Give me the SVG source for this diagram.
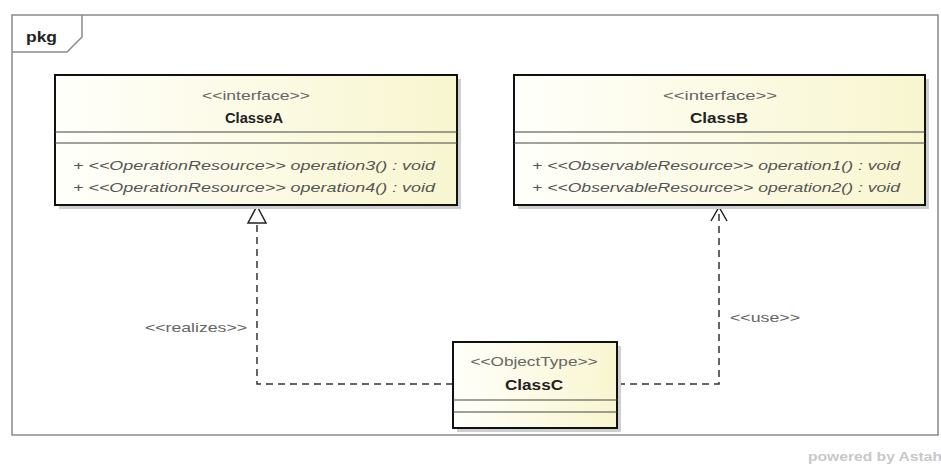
<svg xmlns="http://www.w3.org/2000/svg" width="941" height="464" viewBox="0 0 941 464">
<defs>
<linearGradient id="fillG" x1="0" y1="0" x2="1" y2="0">
<stop offset="0" stop-color="#fffffb"/>
<stop offset="1" stop-color="#f8f6cf"/>
</linearGradient>
</defs>
<style>
.frame{fill:#ffffff;stroke:#8a8a8a;stroke-width:1.5}
.box{fill:url(#fillG);stroke:#111;stroke-width:2}
.shadow{fill:#cfcfcf}
.sep{stroke:#444;stroke-width:1.2}
.st{font-family:"Liberation Sans",Arial,sans-serif;font-size:13px;fill:#666;text-anchor:middle}
.nm{font-family:"Liberation Sans",Arial,sans-serif;font-size:14px;font-weight:bold;fill:#222;text-anchor:middle}
.op{font-family:"Liberation Sans",Arial,sans-serif;font-size:13px;font-style:italic;fill:#555}
.lbl{font-family:"Liberation Sans",Arial,sans-serif;font-size:13px;fill:#666}
.dash{fill:none;stroke:#333;stroke-width:1.5;stroke-dasharray:7,5}
.head{fill:none;stroke:#222;stroke-width:1.5}
</style>
<g id="package">
<rect class="frame" x="12" y="15" width="926" height="420"/>
<path d="M12,52 L67,52 L82,37 L82,15" fill="none" stroke="#8a8a8a" stroke-width="1.5"/>
<text x="26" y="42" font-family="'Liberation Sans',Arial,sans-serif" font-size="14" font-weight="bold" fill="#222" textLength="31" lengthAdjust="spacingAndGlyphs">pkg</text>
</g>
<g id="connectors">
<path class="dash" d="M453,384 L257,384 L257,223"/>
<polygon points="257,206 248,223 266,223" fill="#fff" stroke="#222" stroke-width="1.5"/>
<path class="dash" d="M618,384 L719,384 L719,208"/>
<path class="head" d="M711,221 L719,207 L727,221"/>
<text class="lbl" x="145" y="332" textLength="102" lengthAdjust="spacingAndGlyphs">&lt;&lt;realizes&gt;&gt;</text>
<text class="lbl" x="730" y="322" textLength="70" lengthAdjust="spacingAndGlyphs">&lt;&lt;use&gt;&gt;</text>
</g>
<g id="ClasseA">
<rect class="shadow" x="59" y="79" width="402" height="130"/>
<rect class="box" x="55" y="75" width="402" height="130"/>
<text class="st" x="256" y="100" textLength="108" lengthAdjust="spacingAndGlyphs">&lt;&lt;interface&gt;&gt;</text>
<text class="nm" x="254" y="123" textLength="58" lengthAdjust="spacingAndGlyphs">ClasseA</text>
<line class="sep" x1="55" y1="132" x2="457" y2="132"/>
<line class="sep" x1="55" y1="143" x2="457" y2="143"/>
<text class="op" x="73" y="170" textLength="362" lengthAdjust="spacingAndGlyphs">+ &lt;&lt;OperationResource&gt;&gt; operation3() : void</text>
<text class="op" x="73" y="192" textLength="362" lengthAdjust="spacingAndGlyphs">+ &lt;&lt;OperationResource&gt;&gt; operation4() : void</text>
</g>
<g id="ClassB">
<rect class="shadow" x="518" y="79" width="411" height="130"/>
<rect class="box" x="514" y="75" width="411" height="130"/>
<text class="st" x="720" y="100" textLength="114" lengthAdjust="spacingAndGlyphs">&lt;&lt;interface&gt;&gt;</text>
<text class="nm" x="719" y="123" textLength="58" lengthAdjust="spacingAndGlyphs">ClassB</text>
<line class="sep" x1="514" y1="132" x2="925" y2="132"/>
<line class="sep" x1="514" y1="143" x2="925" y2="143"/>
<text class="op" x="532" y="170" textLength="368" lengthAdjust="spacingAndGlyphs">+ &lt;&lt;ObservableResource&gt;&gt; operation1() : void</text>
<text class="op" x="532" y="192" textLength="368" lengthAdjust="spacingAndGlyphs">+ &lt;&lt;ObservableResource&gt;&gt; operation2() : void</text>
</g>
<g id="ClassC">
<rect class="shadow" x="457" y="346" width="164" height="86"/>
<rect class="box" x="453" y="342" width="164" height="86"/>
<text class="st" x="534" y="366" textLength="127" lengthAdjust="spacingAndGlyphs">&lt;&lt;ObjectType&gt;&gt;</text>
<text class="nm" x="534" y="390" textLength="58" lengthAdjust="spacingAndGlyphs">ClassC</text>
<line class="sep" x1="453" y1="400" x2="617" y2="400"/>
<line class="sep" x1="453" y1="412" x2="617" y2="412"/>
</g>
<text x="808" y="461" font-family="'Liberation Sans',Arial,sans-serif" font-size="12" font-weight="bold" fill="#c8c8c8" textLength="134" lengthAdjust="spacingAndGlyphs">powered by Astah</text>
</svg>
